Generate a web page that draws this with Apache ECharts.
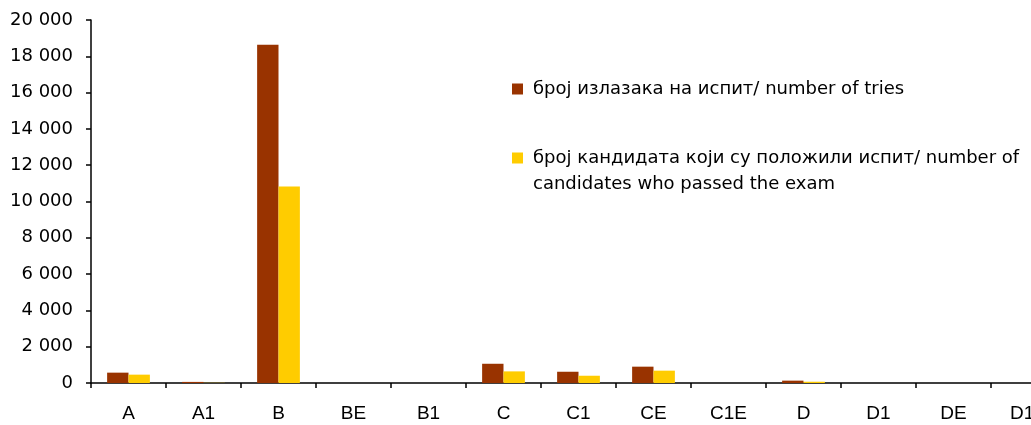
<!DOCTYPE html>
<html>
<head>
<meta charset="utf-8">
<script src="https://cdn.jsdelivr.net/npm/echarts@6/dist/echarts.min.js"></script>
<style>
  html, body { margin: 0; padding: 0; background: #fff; }
  #chart { width: 1031px; height: 425px; }
</style>
</head>
<body>
<div id="chart"></div>
<script>
// categories of driving licence
const categories = ['A', 'A1', 'B', 'BE', 'B1', 'C', 'C1', 'CE', 'C1E', 'D', 'D1', 'DE', 'D1E'];
// број излазака на испит / number of tries
const tries = [570, 60, 18640, 0, 0, 1060, 620, 900, 0, 130, 0, 0, 0];
// број кандидата који су положили испит / number of candidates who passed
const passed = [460, 10, 10820, 0, 0, 640, 400, 680, 0, 70, 0, 0, 0];

const nameTries = 'број излазака на испит/ number of tries';
const namePassed = 'број кандидата који су положили испит/ number of candidates who passed the exam';

const colors = ['#993300', '#FFCC00'];

const fmtThousands = (v) => String(v).replace(/\B(?=(\d{3})+(?!\d))/g, ' ');

const myChart = echarts.init(document.getElementById('chart'));

const legendText = {
  fontFamily: 'DejaVu Sans',
  fontSize: 18,
  color: '#000',
  lineHeight: 26,
  padding: [0, 0, 0, 5]
};

myChart.setOption({
  animation: false,
  color: colors,
  legend: [
    {
      data: [nameTries],
      left: 507,
      top: 71,
      itemWidth: 11,
      itemHeight: 11,
      icon: 'rect',
      textStyle: legendText
    },
    {
      data: [namePassed],
      left: 507,
      top: 114,
      itemWidth: 11,
      itemHeight: 11,
      icon: 'rect',
      // empty first line keeps the marker level with the first text line
      formatter: (name) => ' \n' + name.replace(' candidates', '\ncandidates'),
      textStyle: legendText
    }
  ],
  grid: {
    left: 91,
    top: 20,
    bottom: 42,
    width: 975,
    outerBoundsMode: 'none'
  },
  xAxis: {
    type: 'category',
    data: categories,
    axisLine: { lineStyle: { color: '#000', width: 1.5 } },
    axisTick: { show: true, length: 5, lineStyle: { color: '#000', width: 1.5 } },
    axisLabel: {
      interval: 0,
      margin: 21,
      color: '#000',
      fontFamily: 'Liberation Sans',
      fontSize: 19
    }
  },
  yAxis: {
    type: 'value',
    min: 0,
    max: 20000,
    interval: 2000,
    axisLine: { show: true, lineStyle: { color: '#000', width: 1.5 } },
    axisTick: { show: true, length: 5, lineStyle: { color: '#000', width: 1.5 } },
    splitLine: { show: false },
    axisLabel: {
      margin: 18,
      color: '#000',
      fontFamily: 'DejaVu Sans',
      fontSize: 18,
      formatter: fmtThousands
    }
  },
  series: [
    {
      name: nameTries,
      type: 'bar',
      data: tries,
      barGap: 0,
      barCategoryGap: '43%'
    },
    {
      name: namePassed,
      type: 'bar',
      data: passed,
      barGap: 0,
      barCategoryGap: '43%'
    }
  ]
});
</script>
</body>
</html>
